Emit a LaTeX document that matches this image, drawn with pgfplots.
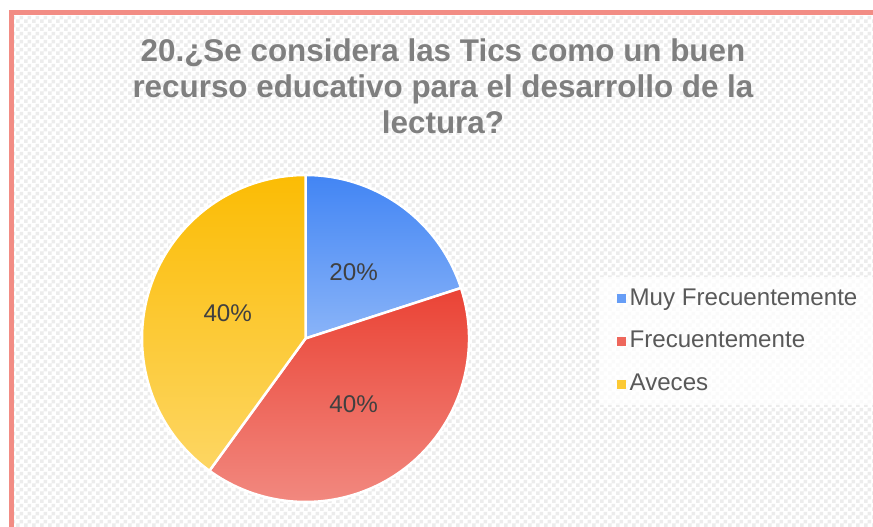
\documentclass[border=0pt]{standalone}
\usepackage{pgfplots}
\pgfplotsset{compat=1.18}
\usepackage{pgfplotstable}
\usepackage{fontspec}
\setmainfont{Liberation Sans}
\usetikzlibrary{patterns}
\pgfdeclarepatternformonly{checker}{\pgfpointorigin}{\pgfqpoint{8bp}{8bp}}{\pgfqpoint{8bp}{8bp}}{%
 \pgfpathrectangle{\pgfpointorigin}{\pgfqpoint{4bp}{4bp}}%
 \pgfpathrectangle{\pgfqpoint{4bp}{4bp}}{\pgfqpoint{4bp}{4bp}}%
 \pgfusepath{fill}}

\definecolor{framec}{RGB}{242,140,132}
\definecolor{checkgray}{RGB}{236,236,236}
\definecolor{titlegray}{RGB}{127,127,127}
\definecolor{legendgray}{RGB}{89,89,89}
\definecolor{labelgray}{RGB}{64,64,64}
\definecolor{top0}{RGB}{66,133,244}
\definecolor{bot0}{RGB}{138,180,248}
\definecolor{top1}{RGB}{234,67,53}
\definecolor{bot1}{RGB}{242,139,130}
\definecolor{top2}{RGB}{251,188,4}
\definecolor{bot2}{RGB}{253,214,99}
\colorlet{mid0}{top0!50!bot0}
\colorlet{mid1}{top1!50!bot1}
\colorlet{mid2}{top2!50!bot2}

\pgfplotstableread{
label value
{Muy Frecuentemente} 20
Frecuentemente 40
Aveces 40
}\piedata

\begin{document}
\begin{tikzpicture}[x=1bp,y=1bp]
\clip (0,0) rectangle (873,527);
\fill[white] (0,0) rectangle (873,527);
\fill[pattern=checker, pattern color=checkgray] (14,-20) rectangle (890,512);
\draw[framec, line width=5.5bp] (11.5,-20) -- (11.5,514.5) -- (890,514.5);
\fill[white, opacity=0.75] (600,122) rectangle (873,250);
\begin{axis}[
  at={(305.5bp,188.5bp)}, anchor=origin,
  x=163.5bp, y=163.5bp,
  xmin=-1, xmax=1, ymin=-1, ymax=1,
  hide axis, clip=false,
  /pgf/number format/assume math mode=true,
  legend cell align=left,
  legend image code/.code={\fill[#1] (0bp,-3bp) rectangle (8bp,5bp);},
  legend style={draw=none, fill=none, at={(1.4526,0.6544)}, anchor=north west,
    font=\fontsize{24.2}{28}\selectfont, text=legendgray,
    row sep=20.75bp, inner sep=0pt,
    nodes={inner sep=0pt, text height=17bp, text depth=5bp},
    /tikz/every odd column/.append style={column sep=4bp}},
]
\addlegendimage{mid0}
\addlegendentry{Muy Frecuentemente}
\addlegendimage{mid1}
\addlegendentry{Frecuentemente}
\addlegendimage{mid2}
\addlegendentry{Aveces}
\pgfplotsextra{%
  \pgfplotstablegetrowsof{\piedata}%
  \pgfmathtruncatemacro{\lastrow}{\pgfplotsretval-1}%
  \def\total{0}%
  \pgfplotsforeachungrouped \i in {0,...,\lastrow}{%
    \pgfplotstablegetelem{\i}{value}\of{\piedata}%
    \pgfmathsetmacro{\total}{\total+\pgfplotsretval}%
  }%
  \def\startang{90}%
  \pgfplotsforeachungrouped \i in {0,...,\lastrow}{%
    \pgfplotstablegetelem{\i}{value}\of{\piedata}%
    \let\val\pgfplotsretval
    \pgfmathsetmacro{\sweep}{360*\val/\total}%
    \pgfmathsetmacro{\endang}{\startang-\sweep}%
    \pgfmathsetmacro{\midang}{\startang-\sweep/2}%
    \pgfmathsetmacro{\pct}{100*\val/\total}%
    \draw[draw=white, line width=2.5bp, top color=top\i, bottom color=bot\i]
      (axis cs:0,0) -- (axis cs:{cos(\startang)},{sin(\startang)})
      arc[start angle=\startang, end angle=\endang, radius=163.5bp] -- cycle;
    \node[text=labelgray, font=\fontsize{24.3}{28}\selectfont, inner sep=0pt]
      at (axis cs:{0.5*cos(\midang)},{0.5*sin(\midang)})
      {\pgfmathprintnumber[fixed,precision=0,assume math mode=true]{\pct}\%};
    \let\startang\endang
  }%
}
\end{axis}
\node[anchor=base, font=\bfseries\fontsize{31.5}{36}\selectfont, text=titlegray] at (443,465.5) {20.¿Se considera las Tics como un buen};
\node[anchor=base, font=\bfseries\fontsize{31.5}{36}\selectfont, text=titlegray] at (443,429.5) {recurso educativo para el desarrollo de la};
\node[anchor=base, font=\bfseries\fontsize{31.5}{36}\selectfont, text=titlegray] at (443,393.5) {lectura?};
\end{tikzpicture}
\end{document}
